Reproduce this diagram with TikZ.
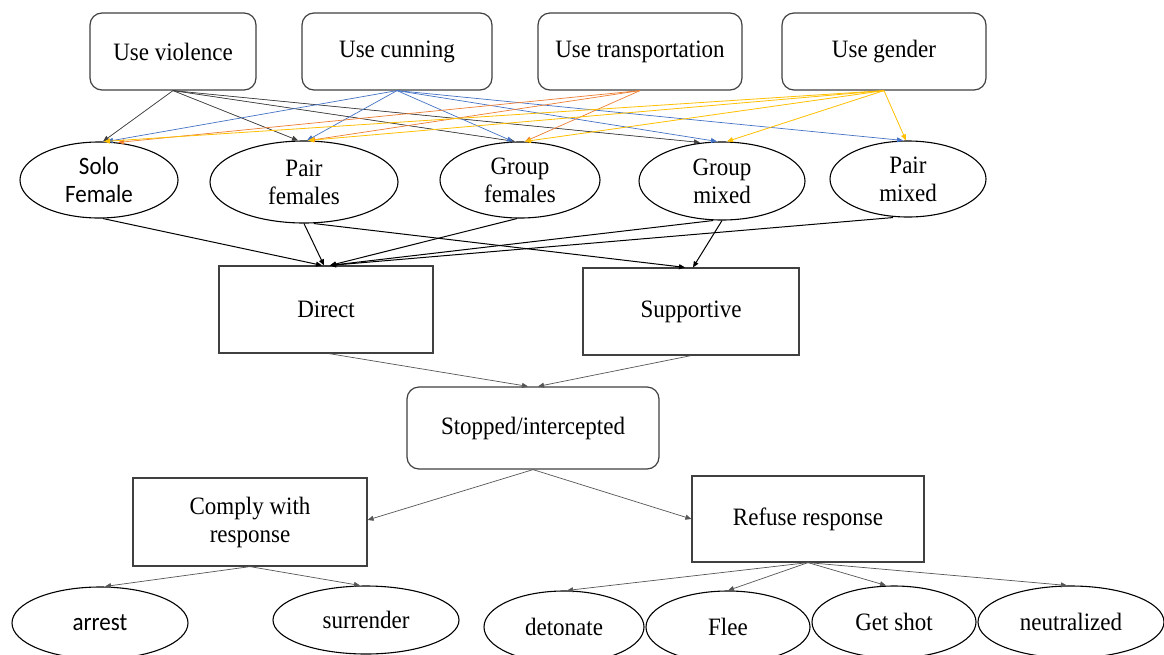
\documentclass[tikz,border=0pt]{standalone}
\usepackage{fontspec}
\setmainfont[FakeStretch=0.92]{Liberation Serif}
\newfontfamily\calib[FakeStretch=0.92]{Carlito}
\usetikzlibrary{shapes.geometric,arrows.meta}
\definecolor{cblue}{HTML}{4472C4}
\definecolor{corange}{HTML}{ED7D31}
\definecolor{cyellow}{HTML}{FFC000}
\definecolor{cdark}{HTML}{404040}
\definecolor{cgray}{HTML}{555555}
\begin{document}
\begin{tikzpicture}[x=1pt,y=-1pt,
  every node/.style={font=\fontsize{25}{28}\selectfont, align=center, inner sep=0pt},
  rbox/.style={draw=cdark, line width=1.2pt, rounded corners=12pt, rectangle},
  sbox/.style={draw=cdark, line width=1.2pt, rectangle},
  ell/.style={draw=black, line width=1.1pt, ellipse},
  sansfont/.style={font=\calib\fontsize{25}{28}\selectfont},
  tip/.style={-{Triangle[length=6pt,width=5pt]}},
  vio/.style={tip, draw=cdark, fill=black, line width=0.7pt},
  cun/.style={tip, draw=cblue, line width=0.7pt},
  tra/.style={tip, draw=corange, line width=0.7pt},
  gen/.style={tip, draw=cyellow, line width=0.8pt},
  mid/.style={tip, draw=black, line width=1pt},
  low/.style={tip, draw=cgray, line width=0.7pt}
]
\fill[white] (0,0) rectangle (1164,654);
\clip (0,0) rectangle (1164,654);

% top boxes
\node[rbox, minimum width=166pt, minimum height=77pt] (viol) at (173,51.5) {Use violence};
\node[rbox, minimum width=190pt, minimum height=77pt] (cunn) at (397,51.5) {Use cunning};
\node[rbox, minimum width=204pt, minimum height=77pt] (trans) at (640,51.5) {Use transportation};
\node[rbox, minimum width=204pt, minimum height=77pt] (gend) at (884,51.5) {Use gender};

% group ellipses
\node[ell, sansfont, minimum width=158pt, minimum height=76pt] (solo) at (99,180) {Solo\\Female};
\node[ell, minimum width=188pt, minimum height=82pt] (pairf) at (304,182) {Pair\\females};
\node[ell, minimum width=160pt, minimum height=76pt] (groupf) at (520,180) {Group\\females};
\node[ell, minimum width=166pt, minimum height=78pt] (groupm) at (722,181) {Group\\mixed};
\node[ell, minimum width=156pt, minimum height=76pt] (pairm) at (908,179) {Pair\\mixed};

% roles
\node[sbox, minimum width=214pt, minimum height=87pt] (direct) at (326,309.5) {Direct};
\node[sbox, minimum width=216pt, minimum height=87pt] (supp) at (691,311.5) {Supportive};

\node[rbox, minimum width=252pt, minimum height=82pt] (stop) at (533,428) {Stopped/intercepted};

\node[sbox, minimum width=234pt, minimum height=88pt] (comply) at (250,522) {Comply with\\response};
\node[sbox, minimum width=232pt, minimum height=86pt] (refuse) at (808,519) {Refuse response};

% outcomes
\node[ell, sansfont, minimum width=176pt, minimum height=72pt] (arrest) at (100,623) {arrest};
\node[ell, minimum width=186pt, minimum height=68pt] (surr) at (366,620) {surrender};
\node[ell, minimum width=160pt, minimum height=72pt] (deton) at (564,627) {detonate};
\node[ell, minimum width=164pt, minimum height=72pt] (flee) at (728,627) {Flee};
\node[ell, minimum width=164pt, minimum height=72pt] (shot) at (894,622) {Get shot};
\node[ell, minimum width=186pt, minimum height=72pt] (neut) at (1071,622) {neutralized};

% violence
\draw[vio] (viol.south) -- ([xshift=4pt]solo.north);
\draw[vio] (viol.south) -- ([xshift=-6pt]pairf.north);
\draw[vio] (viol.south) -- ([xshift=-5pt]groupf.north);
\draw[vio] (viol.south) -- ([xshift=-22pt,yshift=-1pt]groupm.north);
% cunning
\draw[cun] (cunn.south) -- ([xshift=8pt]solo.north);
\draw[cun] (cunn.south) -- ([xshift=3pt]pairf.north);
\draw[cun] (cunn.south) -- ([xshift=-7pt]groupf.north);
\draw[cun] (cunn.south) -- ([xshift=-5pt]groupm.north);
\draw[cun] (cunn.south) -- ([xshift=-5pt]pairm.north);
% transportation
\draw[tra] (trans.south) -- ([xshift=19pt,yshift=-1pt]solo.north);
\draw[tra] (trans.south) -- ([xshift=5pt]pairf.north);
\draw[tra] (trans.south) -- ([xshift=5pt]groupf.north);
% gender
\draw[gen] (gend.south) -- ([xshift=5pt]solo.north);
\draw[gen] (gend.south) -- ([xshift=4pt]pairf.north);
\draw[gen] (gend.south) -- ([xshift=5pt]groupf.north);
\draw[gen] (gend.south) -- ([xshift=5pt]groupm.north);
\draw[gen] (gend.south) -- ([xshift=-2pt]pairm.north);

% groups to roles
\draw[mid] ([xshift=4pt]solo.south) -- ([xshift=-4pt]direct.north);
\draw[mid] (pairf.south) -- ([xshift=-2pt]direct.north);
\draw[mid] ([xshift=-3pt]groupf.south) -- ([xshift=4pt]direct.north);
\draw[mid] ([xshift=-9pt]groupm.south) -- ([xshift=4pt]direct.north);
\draw[mid] ([xshift=-15pt]pairm.south) -- ([xshift=4pt]direct.north);
\draw[mid] ([xshift=10pt]pairf.south) -- ([xshift=-6pt]supp.north);
\draw[mid] (groupm.south) -- ([xshift=2pt]supp.north);

% roles to stopped
\draw[low] ([xshift=3pt]direct.south) -- ([xshift=-5pt]stop.north);
\draw[low] (supp.south) -- ([xshift=5pt]stop.north);

% stopped to responses
\draw[low] (stop.south) -- ([yshift=2pt]comply.east);
\draw[low] (stop.south) -- (refuse.west);

% responses to outcomes
\draw[low] (comply.south) -- ([xshift=5pt]arrest.north);
\draw[low] (comply.south) -- ([xshift=-6pt]surr.north);
\draw[low] (refuse.south) -- ([xshift=3pt]deton.north);
\draw[low] (refuse.south) -- (flee.north);
\draw[low] (refuse.south) -- ([xshift=-8pt]shot.north);
\draw[low] (refuse.south) -- ([xshift=-4pt]neut.north);
\end{tikzpicture}
\end{document}
